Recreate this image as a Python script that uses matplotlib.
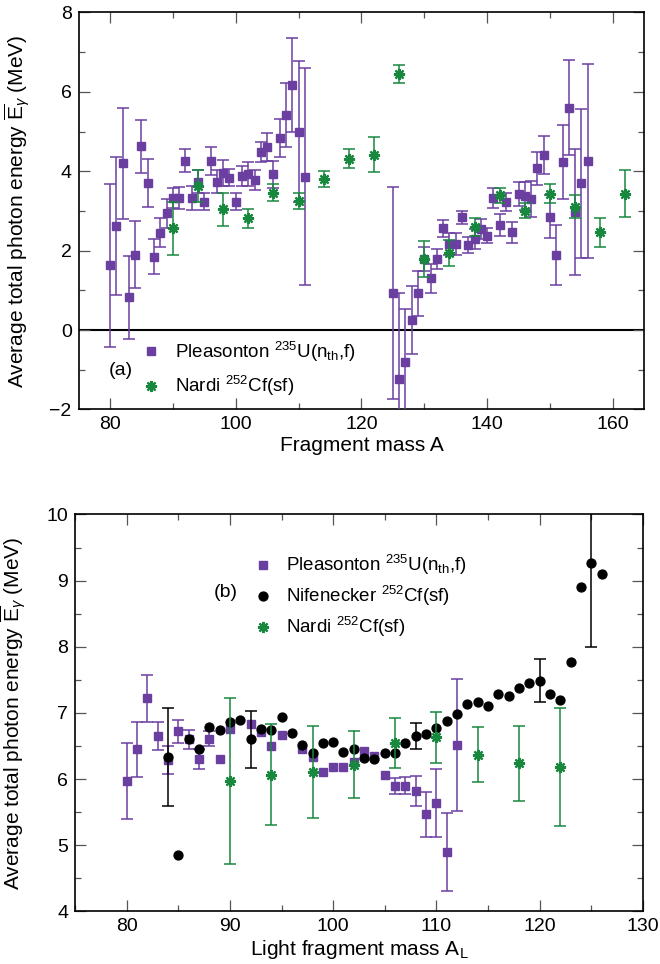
import numpy as np
import matplotlib
matplotlib.use("Agg")
import matplotlib.pyplot as plt
from matplotlib.lines import Line2D
from matplotlib.ticker import MultipleLocator

plt.rcParams['font.family'] = ['Liberation Sans', 'DejaVu Sans']
plt.rcParams['mathtext.fontset'] = 'custom'
plt.rcParams['mathtext.rm'] = 'Liberation Sans'
plt.rcParams['mathtext.it'] = 'Liberation Sans:italic'
plt.rcParams['mathtext.bf'] = 'Liberation Sans:bold'

# ---------------- Panel (a) data ----------------
a_pl_mass = [80, 81, 82, 83, 84, 85, 86, 87, 88, 89, 90, 91, 92, 93, 94, 95, 96, 97, 98, 99,
             100, 101, 102, 103, 104, 105, 106, 107, 108, 109, 110, 111,
             125, 126, 127, 128, 129, 130, 131, 132, 133, 134, 135, 136, 137, 138, 139, 140,
             141, 142, 143, 144, 145, 146, 147, 148, 149, 150, 151, 152, 153, 154, 155, 156]
a_pl_e = [1.63, 2.62, 4.20, 0.82, 1.90, 4.63, 3.70, 1.85, 2.45, 2.94, 3.32, 3.32, 4.27, 3.32, 3.74, 3.23,
          4.26, 3.74, 3.95, 3.84, 3.23, 3.89, 3.92, 3.77, 4.49, 4.62, 3.92, 4.83, 5.42, 6.17, 5.00, 3.86,
          0.94, -1.23, -0.80, 0.25, 0.92, 1.78, 1.30, 1.79, 2.56, 2.17, 2.17, 2.84, 2.14, 2.30, 2.54, 2.38,
          3.32, 2.64, 3.23, 2.46, 3.42, 3.38, 3.30, 4.07, 4.40, 2.85, 1.89, 4.23, 5.60, 2.98, 3.70, 4.26]
a_pl_err = [2.05, 1.75, 1.40, 1.04, 0.85, 0.67, 0.60, 0.45, 0.36, 0.37, 0.25, 0.28, 0.30, 0.30, 0.30, 0.21,
            0.36, 0.30, 0.33, 0.22, 0.21, 0.25, 0.30, 0.25, 0.25, 0.35, 0.35, 0.48, 0.80, 1.19, 1.78, 2.73,
            2.67, 2.17, 1.33, 0.85, 0.57, 0.30, 0.37, 0.25, 0.21, 0.28, 0.28, 0.17, 0.20, 0.25, 0.25, 0.18,
            0.25, 0.27, 0.23, 0.26, 0.30, 0.35, 0.45, 0.42, 0.48, 0.54, 0.76, 0.93, 1.20, 1.59, 1.88, 2.45]

a_na_mass = [90, 94, 98, 102, 106, 110, 114, 118, 122, 126, 130, 134, 138, 142, 146, 150, 154, 158, 162]
a_na_e = [2.56, 3.63, 3.04, 2.81, 3.46, 3.25, 3.80, 4.31, 4.41, 6.45, 1.78, 1.95, 2.59, 3.40, 3.01, 3.43,
          3.11, 2.46, 3.43]
a_na_err = [0.67, 0.41, 0.42, 0.25, 0.21, 0.19, 0.20, 0.24, 0.44, 0.22, 0.45, 0.33, 0.22, 0.19, 0.19, 0.24,
            0.28, 0.36, 0.59]

# ---------------- Panel (b) data ----------------
nan = float('nan')
b_pl_mass = [80, 81, 82, 83, 84, 85, 86, 87, 88, 89, 90, 92, 93, 94, 95, 97, 98, 99, 100, 101, 102,
             103, 104, 105, 106, 107, 108, 109, 110, 111, 112]
b_pl_e = [5.97, 6.45, 7.22, 6.65, 6.29, 6.72, 6.60, 6.31, 6.61, 6.30, 6.76, 6.83, 6.71, 6.50, 6.67, 6.45,
          6.34, 6.11, 6.18, 6.18, 6.26, 6.43, 6.35, 6.07, 5.90, 5.90, 5.82, 5.47, 5.64, 4.90, 6.52]
b_pl_err = [0.58, 0.42, 0.36, 0.21, 0.21, 0.18, 0.15, 0.15, 0.11, nan, nan, nan, nan, nan, nan, nan,
            nan, nan, nan, nan, nan, nan, nan, nan, 0.12, 0.13, 0.22, 0.34, 0.52, 0.59, 1.00]

b_ni_mass = list(range(84, 127))
b_ni_e = [6.33, 4.85, 6.60, 6.46, 6.79, 6.74, 6.86, 6.89, 6.60, 6.76, 6.75, 6.94, 6.70, 6.52, 6.40, 6.54,
          6.56, 6.41, 6.45, 6.32, 6.31, 6.40, 6.40, 6.54, 6.65, 6.68, 6.77, 6.88, 6.99, 7.14, 7.16, 7.10,
          7.28, 7.26, 7.37, 7.45, 7.49, 7.28, 7.19, 7.77, 8.91, 9.27, 9.10]
b_ni_err = [0.74, nan, nan, nan, nan, nan, nan, nan, 0.43, nan, nan, nan, nan, nan, nan, nan,
            nan, nan, nan, nan, nan, nan, nan, nan, 0.20, nan, nan, nan, nan, nan, nan, nan,
            nan, nan, nan, nan, 0.33, nan, nan, nan, nan, 1.28, nan]

b_na_mass = [90, 94, 98, 102, 106, 110, 114, 118, 122]
b_na_e = [5.97, 6.07, 6.11, 6.22, 6.55, 6.63, 6.37, 6.24, 6.18]
b_na_err = [1.26, 0.76, 0.69, 0.50, 0.38, 0.38, 0.42, 0.57, 0.89]

lbl_pl = r'Pleasonton $^{235}$U(n$_{\mathrm{th}}$,f)'
lbl_ni = r'Nifenecker $^{252}$Cf(sf)'
lbl_na = r'Nardi $^{252}$Cf(sf)'
ylab = r'Average total photon energy $\overline{\mathrm{E}}_{\gamma}$ (MeV)'

PURPLE = '#6b3fa0'
GREEN = '#17883e'
BLACK = '#000000'

fig = plt.figure(figsize=(6.6, 9.64), dpi=100)
ax1 = fig.add_axes([0.1191, 0.5753, 0.9761 - 0.1191, 0.9871 - 0.5753])
ax2 = fig.add_axes([0.1136, 0.0545, 0.9742 - 0.1136, 0.4663 - 0.0545])

eb_kw = dict(capsize=4.3, elinewidth=1.1, capthick=1.1, linestyle='none')
sq_kw = dict(fmt='s', ms=5.8, color=PURPLE, mec=PURPLE)
ci_kw = dict(fmt='o', ms=6.4, color=BLACK, mec=BLACK)


def star(ax, x, y, err, z):
    ax.errorbar(x, y, yerr=err, fmt='none', ecolor=GREEN, zorder=z, **eb_kw)
    ax.plot(x, y, ls='none', marker=(8, 2, 0), ms=8, mew=1.6, color=GREEN, zorder=z + 0.1)


# ---- panel (a)
ax1.axhline(0, color='black', lw=1.5, zorder=1)
ax1.errorbar(a_pl_mass, a_pl_e, yerr=a_pl_err, zorder=3, **sq_kw, **eb_kw)
star(ax1, a_na_mass, a_na_e, a_na_err, 4)
ax1.set_xlim(75, 165)
ax1.set_ylim(-2, 8)
ax1.xaxis.set_major_locator(MultipleLocator(20))
ax1.xaxis.set_minor_locator(MultipleLocator(10))
ax1.yaxis.set_major_locator(MultipleLocator(2))
ax1.yaxis.set_minor_locator(MultipleLocator(1))
ax1.set_xlabel('Fragment mass A', fontsize=15, labelpad=2)
ax1.set_ylabel(ylab, fontsize=15)
ax1.text(0.074, 0.099, '(a)', transform=ax1.transAxes, fontsize=14, ha='center', va='center')
h_pl = Line2D([], [], ls='none', marker='s', ms=5.8, color=PURPLE)
h_ni = Line2D([], [], ls='none', marker='o', ms=6.4, color=BLACK)
h_na = Line2D([], [], ls='none', marker=(8, 2, 0), ms=8, mew=1.6, color=GREEN)
leg1 = ax1.legend([h_pl, h_na], [lbl_pl, lbl_na], loc='upper left', bbox_to_anchor=(0.112, 0.175),
                  frameon=False, fontsize=13.5, handlelength=1.0, handletextpad=0.75,
                  borderpad=0, borderaxespad=0, labelspacing=0.55)

# ---- panel (b)
ax2.errorbar(b_pl_mass, b_pl_e, yerr=b_pl_err, zorder=3, **sq_kw, **eb_kw)
ax2.errorbar(b_ni_mass, b_ni_e, yerr=b_ni_err, zorder=4, **ci_kw, **eb_kw)
star(ax2, b_na_mass, b_na_e, b_na_err, 5)
ax2.set_xlim(75, 130)
ax2.set_ylim(4, 10)
ax2.xaxis.set_major_locator(MultipleLocator(10))
ax2.xaxis.set_minor_locator(MultipleLocator(5))
ax2.yaxis.set_major_locator(MultipleLocator(1))
ax2.yaxis.set_minor_locator(MultipleLocator(0.5))
ax2.set_xlabel(r'Light fragment mass A$_{\mathrm{L}}$', fontsize=15, labelpad=2)
ax2.set_ylabel(ylab, fontsize=15)
ax2.text(0.265, 0.803, '(b)', transform=ax2.transAxes, fontsize=14, ha='center', va='center')
leg2 = ax2.legend([h_pl, h_ni, h_na], [lbl_pl, lbl_ni, lbl_na], loc='upper left',
                  bbox_to_anchor=(0.314, 0.903), frameon=False, fontsize=13.5, handlelength=1.0,
                  handletextpad=0.75, borderpad=0, borderaxespad=0, labelspacing=0.37)

for ax in (ax1, ax2):
    ax.tick_params(which='both', direction='in', top=True, right=True, labelsize=14,
                   color='#555555', pad=5)
    ax.tick_params(which='major', length=8, width=0.9)
    ax.tick_params(which='minor', length=4, width=0.9)
    for s in ax.spines.values():
        s.set_linewidth(1.2)
    ax.yaxis.set_label_coords(-0.083, 0.5)

fig.savefig('out.png', dpi=100)
